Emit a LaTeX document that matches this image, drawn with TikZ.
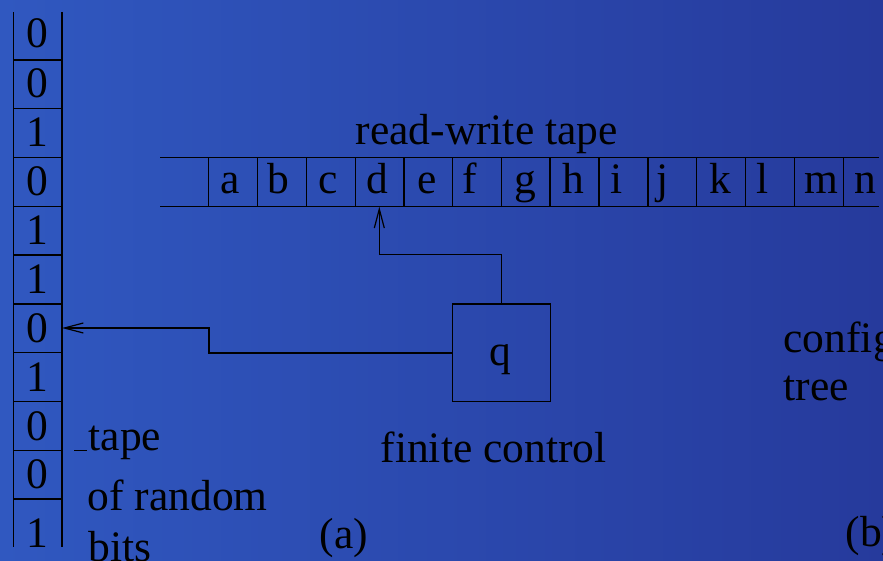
\documentclass[tikz,border=0pt]{standalone}
\usepackage{fontspec}
\setmainfont{Liberation Serif}
\usetikzlibrary{arrows.meta}
\definecolor{bgL}{RGB}{48,88,192}
\definecolor{bgR}{RGB}{38,58,156}
\begin{document}
\begin{tikzpicture}[x=1pt,y=-1pt,
  line width=1.3pt,
  every node/.style={font=\fontsize{43.5}{52}\selectfont, inner sep=0pt, text=black},
  lbl/.style={anchor=base west},
  sym/.style={anchor=base},
  tapeline/.style={draw=black, line width=1.3pt},
  ctrlbox/.style={draw=black, line width=1.3pt, minimum width=98pt, minimum height=97.7pt},
  wire/.style={draw=black, line width=1.3pt, -{Straight Barb[length=19pt,width=10pt,line width=1.2pt]}}]
\useasboundingbox (0,0) rectangle (883,561);
\shade[left color=bgL, right color=bgR] (0,0) rectangle (883,561);
\begin{scope}
\clip (0,0) rectangle (883,561);
% random-bit tape (vertical)
\draw[tapeline] (13.3,12) -- (13.3,547);
\draw[tapeline] (62,12) -- (62,547);
\foreach \yy in {60,108.7,157.3,206.3,255,304,352.7,401.7,450.3,499}
  \draw[tapeline] (13.3,\yy) -- (62,\yy);
\node[sym] (b1) at (37.7,48) {0};
\node[sym] (b2) at (37.7,98) {0};
\node[sym] (b3) at (37.7,146.7) {1};
\node[sym] (b4) at (37.7,195.5) {0};
\node[sym] (b5) at (37.7,244.5) {1};
\node[sym] (b6) at (37.7,293.5) {1};
\node[sym] (b7) at (37.7,342.5) {0};
\node[sym] (b8) at (37.7,391) {1};
\node[sym] (b9) at (37.7,440) {0};
\node[sym] (b10) at (37.7,488.5) {0};
\node[sym] (b11) at (37.7,547) {1};
% read-write tape (horizontal)
\draw[tapeline] (160,157.7) -- (879,157.7);
\draw[tapeline] (160,206.7) -- (879,206.7);
\foreach \xx in {208.7,257.3,306.7,355.3,404,452.7,501.7,550,599,648,696.7,745.7,794.7,843.3}
  \draw[tapeline] (\xx,157.7) -- (\xx,206.7);
\node[sym] (ta) at (230,193.5) {a};
\node[sym] (tb) at (278,193.5) {b};
\node[sym] (tc) at (328,193.5) {c};
\node[sym] (td) at (377.7,193.5) {d};
\node[sym] (te) at (426.7,193.5) {e};
\node[sym] (tf) at (470,193.5) {f};
\node[sym] (tg) at (525,193.5) {g};
\node[sym] (th) at (573,193.5) {h};
\node[sym] (ti) at (616.7,193.5) {i};
\node[sym] (tj) at (663,193.5) {j};
\node[sym] (tk) at (720,193.5) {k};
\node[sym] (tl) at (762.7,193.5) {l};
\node[sym] (tm) at (821.7,193.5) {m};
\node[sym] (tn) at (865,193.5) {n};
\node[lbl] (rwlabel) at (355,145) {read-write tape};
% finite control
\node[ctrlbox] (q) at (501.3,352.85) {};
\node[sym] (qlabel) at (500,365) {q};
\node[lbl] (fclabel) at (380,462.7) {finite control};
% connectors
\coordinate (headtip) at (379.3,206.7);
\coordinate (bittip) at (62,328);
\draw[wire] (q.north) -- ++(0,-49) -| (headtip);
\draw[wire] (q.west) -- (209,352.85) -- (209,328) -- (bittip);
% labels
\draw[black, line width=1pt] (74,450.7) -- (86.7,450.7);
\node[lbl] (tapelabel) at (88,450) {tape};
\node[lbl] (ofrandom) at (87,510) {of random};
\node[lbl] (bits) at (88,561) {bits};
\node[lbl] (alabel) at (319,548) {(a)};
\node[lbl] (config) at (783,352) {config};
\node[lbl] (tree) at (783,400) {tree};
\node[lbl] (blabel) at (845,546.7) {(b)};
\end{scope}
\end{tikzpicture}
\end{document}
